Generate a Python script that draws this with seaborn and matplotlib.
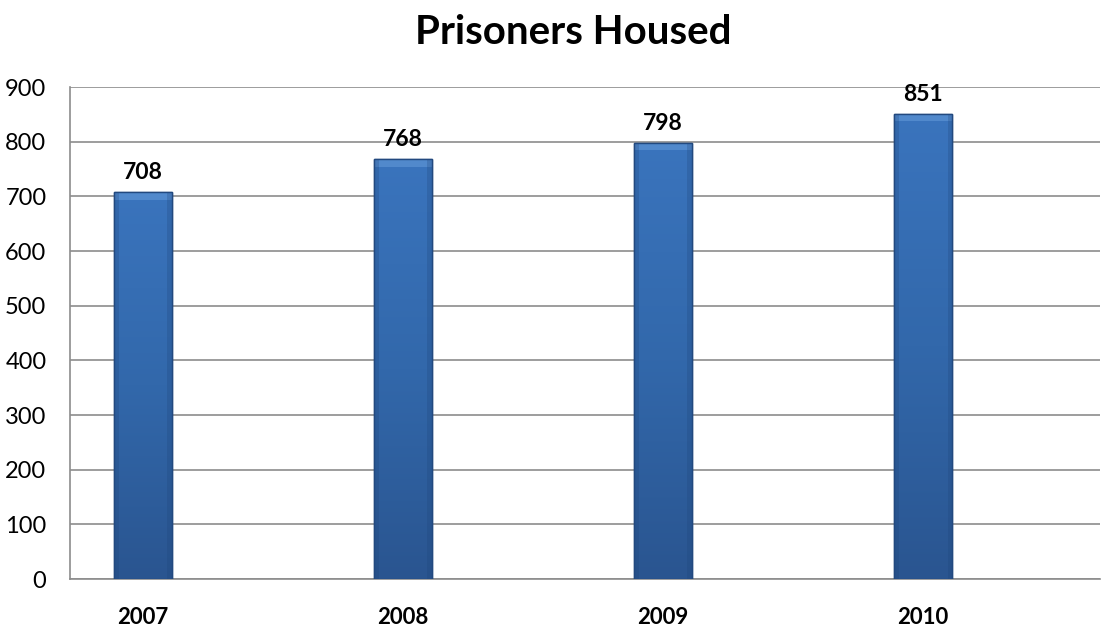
import numpy as np
import pandas as pd
import matplotlib
matplotlib.use("Agg")
import matplotlib.pyplot as plt
import seaborn as sns
from matplotlib.colors import LinearSegmentedColormap

years = ["2007", "2008", "2009", "2010"]
prisoners = [708, 768, 798, 851]
y_ticks = [0, 100, 200, 300, 400, 500, 600, 700, 800, 900]

sns.set_theme(style="white")
plt.rcParams['font.family'] = ['Lato', 'DejaVu Sans']
plt.rcParams['text.color'] = 'black'
plt.rcParams['xtick.color'] = 'black'
plt.rcParams['ytick.color'] = 'black'

df = pd.DataFrame({"year": years, "prisoners": prisoners})

fig = plt.figure(figsize=(11.02, 6.26), dpi=100)
ax = fig.add_axes([70/1102, 1 - 579/626, 1030/1102, (579 - 87)/626])

sns.barplot(data=df, x="year", y="prisoners", ax=ax, width=0.223,
            color="#3467a8", edgecolor="#22497f", linewidth=1.0, zorder=3)

cmap = LinearSegmentedColormap.from_list("bar", ["#2a5590", "#3268ab", "#3a74bd"])
grad = np.linspace(0, 1, 256).reshape(-1, 1)
for p in ax.patches:
    x0, y0 = p.get_x(), p.get_y()
    w, h = p.get_width(), p.get_height()
    im = ax.imshow(grad, cmap=cmap, origin="lower", aspect="auto",
                   extent=[x0, x0 + w, y0, y0 + h], zorder=3.5)
    im.set_clip_path(p)
    # top bevel highlight
    ax.fill_between([x0, x0 + w], y0 + h - 14, y0 + h, color="#6a9fdc",
                    alpha=0.5, zorder=3.6, linewidth=0)
    # side bevels
    ax.fill_between([x0, x0 + w * 0.08], y0, y0 + h, color="#1e4478",
                    alpha=0.25, zorder=3.6, linewidth=0)
    ax.fill_between([x0 + w * 0.92, x0 + w], y0, y0 + h, color="#1e4478",
                    alpha=0.25, zorder=3.6, linewidth=0)
    ax.add_patch(plt.Rectangle((x0, y0), w, h, fill=False,
                               edgecolor="#22497f", linewidth=1.0, zorder=3.7))
    ax.text(x0 + w / 2, y0 + h + 16, f"{int(h)}", ha="center", va="bottom",
            fontsize=16.5, fontweight="bold", color="black", zorder=5)

ax.set_xlim(-0.281, 3.68)
ax.set_ylim(0, 900)
ax.set_yticks(y_ticks)
ax.set_yticklabels([str(t) for t in y_ticks], fontsize=17)
ax.set_xticks(range(len(years)))
ax.set_xticklabels(years, fontsize=16, fontweight="bold")
ax.tick_params(axis="x", pad=20, length=0)
ax.tick_params(axis="y", pad=17, length=0)
ax.yaxis.grid(True, color="#8c8c8c", linewidth=1.2, zorder=0)
ax.set_axisbelow(True)
ax.set_xlabel("")
ax.set_ylabel("")
for s in ["top", "right"]:
    ax.spines[s].set_visible(False)
ax.spines["left"].set_color("#8c8c8c")
ax.spines["bottom"].set_color("#8c8c8c")
ax.spines["left"].set_linewidth(1.2)
ax.spines["bottom"].set_linewidth(1.2)

fig.text(0.52, 1 - 32/626, "Prisoners Housed", ha="center", va="center",
         fontsize=29, fontweight="bold", color="black")

fig.savefig("out.png", dpi=100)
